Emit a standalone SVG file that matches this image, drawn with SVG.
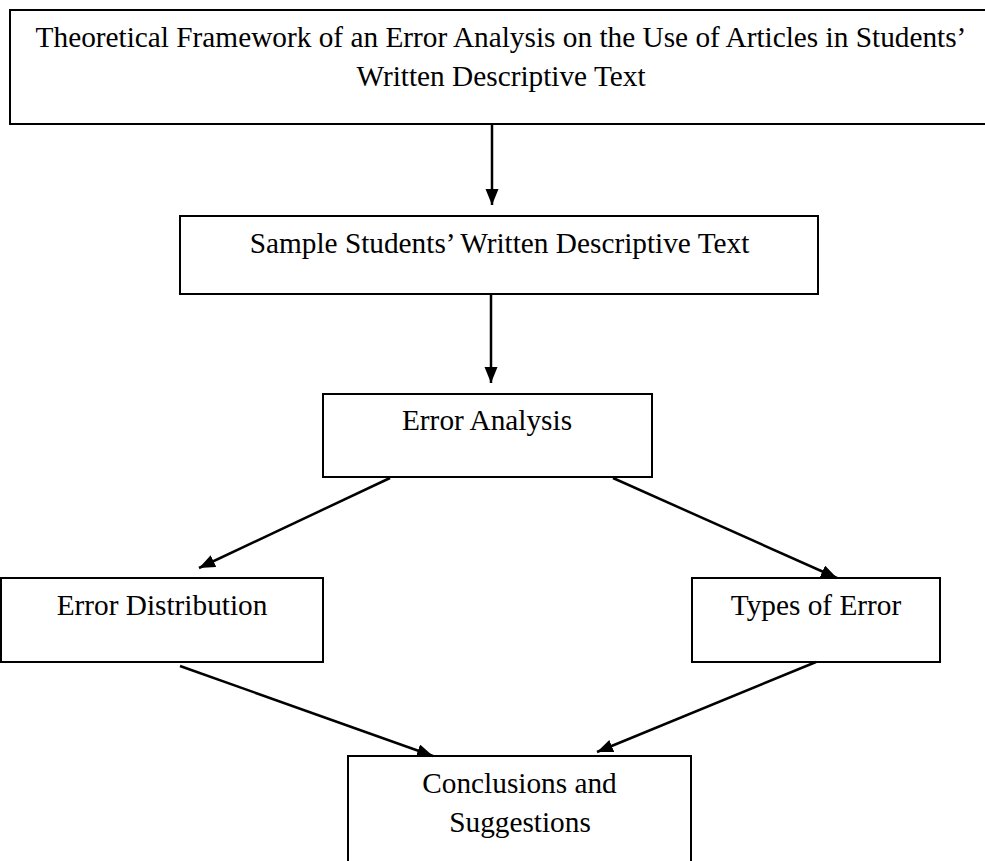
<svg xmlns="http://www.w3.org/2000/svg" width="985" height="861" viewBox="0 0 985 861">
<style>
.box{fill:#fff;stroke:#000;stroke-width:2}
.t{font-family:"Liberation Serif","Times New Roman",serif;font-size:29.3px;fill:#000;text-anchor:middle}
.c{stroke:#000;stroke-width:2.5;fill:none;marker-end:url(#ah)}
</style>
<defs>
<marker id="ah" markerUnits="userSpaceOnUse" markerWidth="17" markerHeight="14" viewBox="0 0 17 14" refX="16" refY="6.5" orient="auto">
<path d="M0,0 L16,6.5 L0,13 z" fill="#000"/>
</marker>
</defs>
<rect width="985" height="861" fill="#fff"/>
<g id="n1"><rect class="box" x="10" y="10" width="990" height="114"/>
<text class="t" x="501" y="47">Theoretical Framework of an Error Analysis on the Use of Articles in Students’</text>
<text class="t" x="501" y="86">Written Descriptive Text</text></g>
<g id="n2"><rect class="box" x="180" y="216" width="638" height="78"/>
<text class="t" x="499.5" y="253">Sample Students’ Written Descriptive Text</text></g>
<g id="n3"><rect class="box" x="323" y="394" width="329" height="83"/>
<text class="t" x="487" y="430">Error Analysis</text></g>
<g id="n4"><rect class="box" x="1" y="578" width="322" height="84"/>
<text class="t" x="162" y="615">Error Distribution</text></g>
<g id="n5"><rect class="box" x="692" y="578" width="248" height="84"/>
<text class="t" x="816" y="615">Types of Error</text></g>
<g id="n6"><rect class="box" x="348" y="756" width="343" height="120"/>
<text class="t" x="519.5" y="793">Conclusions and</text>
<text class="t" x="520" y="832">Suggestions</text></g>
<g id="connectors">
<line class="c" x1="492" y1="124" x2="492" y2="205"/>
<line class="c" x1="491" y1="294" x2="491" y2="383"/>
<line class="c" x1="390" y1="478" x2="199" y2="568"/>
<line class="c" x1="613" y1="478" x2="837" y2="578"/>
<line class="c" x1="180" y1="666" x2="433" y2="756"/>
<line class="c" x1="816" y1="662" x2="597" y2="752"/>
</g>
</svg>
